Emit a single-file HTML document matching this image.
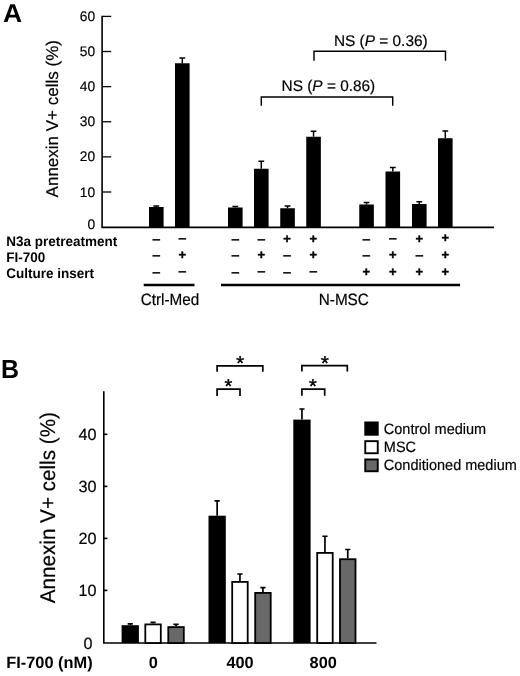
<!DOCTYPE html>
<html lang="en"><head><meta charset="utf-8"><title>Figure</title>
<style>html,body{margin:0;padding:0;background:#fff}body{width:520px;height:676px;overflow:hidden}svg{display:block}text{font-family:"Liberation Sans", sans-serif;text-rendering:geometricPrecision;fill:#000;stroke:#000;stroke-width:.18px}.b{font-weight:bold;stroke-width:0}.p{stroke-width:.4px}.s{stroke-width:.45px}</style>
</head><body>
<svg width="520" height="676" viewBox="0 0 520 676">
<rect width="520" height="676" fill="#fff"/>
<text class="b" transform="translate(3.0 21.6) scale(1.08 1.06)" font-size="24.5">A</text>
<path d="M102.10 15.75V227.40H494" fill="none" stroke="#000" stroke-width="1.6"/>
<path d="M102.10 16.40H111.2" stroke="#000" stroke-width="1.3"/>
<text x="95.2" y="21.00" font-size="13.8" text-anchor="end">60</text>
<path d="M102.10 51.52H111.2" stroke="#000" stroke-width="1.3"/>
<text x="95.2" y="56.12" font-size="13.8" text-anchor="end">50</text>
<path d="M102.10 86.64H111.2" stroke="#000" stroke-width="1.3"/>
<text x="95.2" y="91.24" font-size="13.8" text-anchor="end">40</text>
<path d="M102.10 121.76H111.2" stroke="#000" stroke-width="1.3"/>
<text x="95.2" y="126.36" font-size="13.8" text-anchor="end">30</text>
<path d="M102.10 156.88H111.2" stroke="#000" stroke-width="1.3"/>
<text x="95.2" y="161.48" font-size="13.8" text-anchor="end">20</text>
<path d="M102.10 192.00H111.2" stroke="#000" stroke-width="1.3"/>
<text x="95.2" y="196.60" font-size="13.8" text-anchor="end">10</text>
<text x="95.2" y="228.8" font-size="13.8" text-anchor="end">0</text>
<text transform="translate(57.6 197.4) rotate(-90)" font-size="17">Annexin V+ cells (%)</text>
<rect x="149.00" y="207.00" width="14.6" height="20.40"/>
<path d="M156.30 207.00V206.00M153.40 206.00H159.20" stroke="#000" stroke-width="1.5" fill="none"/>
<rect x="175.00" y="63.25" width="14.6" height="164.15"/>
<path d="M182.30 63.25V58.00M179.40 58.00H185.20" stroke="#000" stroke-width="1.5" fill="none"/>
<rect x="228.00" y="207.50" width="14.6" height="19.90"/>
<path d="M235.30 207.50V206.50M232.40 206.50H238.20" stroke="#000" stroke-width="1.5" fill="none"/>
<rect x="254.00" y="168.75" width="14.6" height="58.65"/>
<path d="M261.30 168.75V161.25M258.40 161.25H264.20" stroke="#000" stroke-width="1.5" fill="none"/>
<rect x="280.25" y="208.25" width="14.6" height="19.15"/>
<path d="M287.55 208.25V206.00M284.65 206.00H290.45" stroke="#000" stroke-width="1.5" fill="none"/>
<rect x="306.25" y="136.75" width="14.6" height="90.65"/>
<path d="M313.55 136.75V131.25M310.65 131.25H316.45" stroke="#000" stroke-width="1.5" fill="none"/>
<rect x="359.25" y="204.50" width="14.6" height="22.90"/>
<path d="M366.55 204.50V202.50M363.65 202.50H369.45" stroke="#000" stroke-width="1.5" fill="none"/>
<rect x="385.50" y="171.50" width="14.6" height="55.90"/>
<path d="M392.80 171.50V167.50M389.90 167.50H395.70" stroke="#000" stroke-width="1.5" fill="none"/>
<rect x="412.00" y="204.00" width="14.6" height="23.40"/>
<path d="M419.30 204.00V201.75M416.40 201.75H422.20" stroke="#000" stroke-width="1.5" fill="none"/>
<rect x="438.00" y="138.25" width="14.6" height="89.15"/>
<path d="M445.30 138.25V131.00M442.40 131.00H448.20" stroke="#000" stroke-width="1.5" fill="none"/>
<text class="b" x="156.20" y="243.65" font-size="15.5" text-anchor="middle">–</text>
<text class="b" x="182.20" y="243.05" font-size="15.5" text-anchor="middle">–</text>
<text class="b" x="235.20" y="243.65" font-size="15.5" text-anchor="middle">–</text>
<text class="b" x="261.40" y="243.65" font-size="15.5" text-anchor="middle">–</text>
<text class="b p" x="287.00" y="242.75" font-size="13" text-anchor="middle">+</text>
<text class="b p" x="313.30" y="242.75" font-size="13" text-anchor="middle">+</text>
<text class="b" x="366.40" y="243.65" font-size="15.5" text-anchor="middle">–</text>
<text class="b" x="392.80" y="243.15" font-size="15.5" text-anchor="middle">–</text>
<text class="b p" x="419.30" y="242.75" font-size="13" text-anchor="middle">+</text>
<text class="b p" x="445.30" y="242.15" font-size="13" text-anchor="middle">+</text>
<text class="b" x="156.20" y="260.05" font-size="15.5" text-anchor="middle">–</text>
<text class="b p" x="182.20" y="259.15" font-size="13" text-anchor="middle">+</text>
<text class="b" x="235.20" y="260.05" font-size="15.5" text-anchor="middle">–</text>
<text class="b p" x="261.40" y="259.15" font-size="13" text-anchor="middle">+</text>
<text class="b" x="287.00" y="260.05" font-size="15.5" text-anchor="middle">–</text>
<text class="b p" x="313.30" y="259.15" font-size="13" text-anchor="middle">+</text>
<text class="b" x="366.40" y="260.05" font-size="15.5" text-anchor="middle">–</text>
<text class="b p" x="392.80" y="258.85" font-size="13" text-anchor="middle">+</text>
<text class="b" x="419.30" y="260.05" font-size="15.5" text-anchor="middle">–</text>
<text class="b p" x="445.30" y="258.85" font-size="13" text-anchor="middle">+</text>
<text class="b" x="156.20" y="276.55" font-size="15.5" text-anchor="middle">–</text>
<text class="b" x="182.20" y="275.55" font-size="15.5" text-anchor="middle">–</text>
<text class="b" x="235.20" y="276.55" font-size="15.5" text-anchor="middle">–</text>
<text class="b" x="261.40" y="275.95" font-size="15.5" text-anchor="middle">–</text>
<text class="b" x="287.00" y="276.55" font-size="15.5" text-anchor="middle">–</text>
<text class="b" x="313.30" y="275.75" font-size="15.5" text-anchor="middle">–</text>
<text class="b p" x="366.40" y="275.75" font-size="13" text-anchor="middle">+</text>
<text class="b p" x="392.80" y="275.75" font-size="13" text-anchor="middle">+</text>
<text class="b p" x="419.30" y="275.75" font-size="13" text-anchor="middle">+</text>
<text class="b p" x="445.30" y="275.75" font-size="13" text-anchor="middle">+</text>
<text class="b" transform="translate(6.2 245.6) scale(1 1.03)" font-size="13.5">N3a pretreatment</text>
<text class="b" transform="translate(6.2 262.3) scale(1 1.03)" font-size="13.5">FI-700</text>
<text class="b" transform="translate(6.2 278.3) scale(1 1.03)" font-size="13.5">Culture insert</text>
<path d="M143.7 285H194.5M221 285H460" stroke="#000" stroke-width="2.4"/>
<text transform="translate(170 305) scale(1 1.07)" font-size="15.3" text-anchor="middle">Ctrl-Med</text>
<text transform="translate(343.8 305) scale(1 1.07)" font-size="15.3" text-anchor="middle">N-MSC</text>
<path d="M314 60.8V51.3H445.5V60.8M261.3 105.8V97H392.7V105.8" fill="none" stroke="#000" stroke-width="1.45"/>
<text x="380.8" y="45.7" font-size="15.4" text-anchor="middle">NS (<tspan font-style="italic">P</tspan> = 0.36)</text>
<text x="328.4" y="90.6" font-size="15.4" text-anchor="middle">NS (<tspan font-style="italic">P</tspan> = 0.86)</text>
<text class="b" transform="translate(0.9 377.9) scale(1.02 1.07)" font-size="24.5">B</text>
<path d="M103.80 391.2V643.00H376.5" fill="none" stroke="#000" stroke-width="1.6"/>
<path d="M103.80 434.30H107.4" stroke="#000" stroke-width="1.6"/>
<text x="96.5" y="440.10" font-size="16.2" text-anchor="end">40</text>
<path d="M103.80 486.40H107.4" stroke="#000" stroke-width="1.6"/>
<text x="96.5" y="492.20" font-size="16.2" text-anchor="end">30</text>
<path d="M103.80 538.40H107.4" stroke="#000" stroke-width="1.6"/>
<text x="96.5" y="544.20" font-size="16.2" text-anchor="end">20</text>
<path d="M103.80 590.40H107.4" stroke="#000" stroke-width="1.6"/>
<text x="96.5" y="596.20" font-size="16.2" text-anchor="end">10</text>
<text x="92.6" y="649.2" font-size="16.2" text-anchor="end">0</text>
<text transform="translate(55.4 603.3) rotate(-90) scale(1.008 1.04)" font-size="20.5">Annexin V+ cells (%)</text>
<path d="M130.25 625.20V623.90M127.65 623.90H132.85" stroke="#000" stroke-width="1.7" fill="none"/>
<rect x="121.60" y="625.20" width="17.30" height="17.80"/>
<path d="M153.05 623.50V622.30M150.45 622.30H155.65" stroke="#000" stroke-width="1.7" fill="none"/>
<rect x="145.30" y="624.40" width="15.50" height="18.60" fill="#fff" stroke="#000" stroke-width="1.8"/>
<path d="M176.05 626.20V624.30M173.45 624.30H178.65" stroke="#000" stroke-width="1.7" fill="none"/>
<rect x="168.30" y="627.10" width="15.50" height="15.90" fill="#686868" stroke="#000" stroke-width="1.8"/>
<path d="M217.15 515.70V500.90M214.55 500.90H219.75" stroke="#000" stroke-width="1.7" fill="none"/>
<rect x="208.50" y="515.70" width="17.30" height="127.30"/>
<path d="M239.95 581.00V574.00M237.35 574.00H242.55" stroke="#000" stroke-width="1.7" fill="none"/>
<rect x="232.20" y="581.90" width="15.50" height="61.10" fill="#fff" stroke="#000" stroke-width="1.8"/>
<path d="M262.95 592.00V587.70M260.35 587.70H265.55" stroke="#000" stroke-width="1.7" fill="none"/>
<rect x="255.20" y="592.90" width="15.50" height="50.10" fill="#686868" stroke="#000" stroke-width="1.8"/>
<path d="M301.95 419.60V409.00M299.35 409.00H304.55" stroke="#000" stroke-width="1.7" fill="none"/>
<rect x="293.30" y="419.60" width="17.30" height="223.40"/>
<path d="M324.95 552.00V536.25M322.35 536.25H327.55" stroke="#000" stroke-width="1.7" fill="none"/>
<rect x="317.20" y="552.90" width="15.50" height="90.10" fill="#fff" stroke="#000" stroke-width="1.8"/>
<path d="M347.75 558.30V549.50M345.15 549.50H350.35" stroke="#000" stroke-width="1.7" fill="none"/>
<rect x="340.00" y="559.20" width="15.50" height="83.80" fill="#686868" stroke="#000" stroke-width="1.8"/>
<text class="b" x="6.2" y="667.6" font-size="16.4">FI-700 (nM)</text>
<text class="b" x="153.2" y="667.6" font-size="16.3" text-anchor="middle">0</text>
<text class="b" x="240" y="667.6" font-size="16.3" text-anchor="middle">400</text>
<text class="b" x="323.2" y="667.6" font-size="16.3" text-anchor="middle">800</text>
<path d="M217.1 371.7V365.8H262.8V371.7M217.1 395.9V389.1H240V395.9M301.9 371.5V365.6H347.3V371.5M301.9 395.8V389.1H324.7V395.8" fill="none" stroke="#000" stroke-width="1.7"/>
<text x="240.20" y="370.43" class="s" font-size="20" text-anchor="middle">*</text>
<text x="228.30" y="392.93" class="s" font-size="20" text-anchor="middle">*</text>
<text x="324.80" y="370.43" class="s" font-size="20" text-anchor="middle">*</text>
<text x="312.90" y="392.53" class="s" font-size="20" text-anchor="middle">*</text>
<rect x="364.3" y="421.5" width="14.4" height="14.2"/>
<rect x="365.25" y="441.15" width="12.5" height="12.1" fill="#fff" stroke="#000" stroke-width="1.9"/>
<rect x="365.25" y="459.45" width="12.5" height="11.8" fill="#686868" stroke="#000" stroke-width="1.9"/>
<text transform="translate(383.8 433.6) scale(1 1.04)" font-size="14.5">Control medium</text>
<text transform="translate(383.8 451.8) scale(1 1.04)" font-size="14.5">MSC</text>
<text transform="translate(383.8 470.1) scale(1 1.04)" font-size="14.5">Conditioned medium</text>
</svg></body></html>
